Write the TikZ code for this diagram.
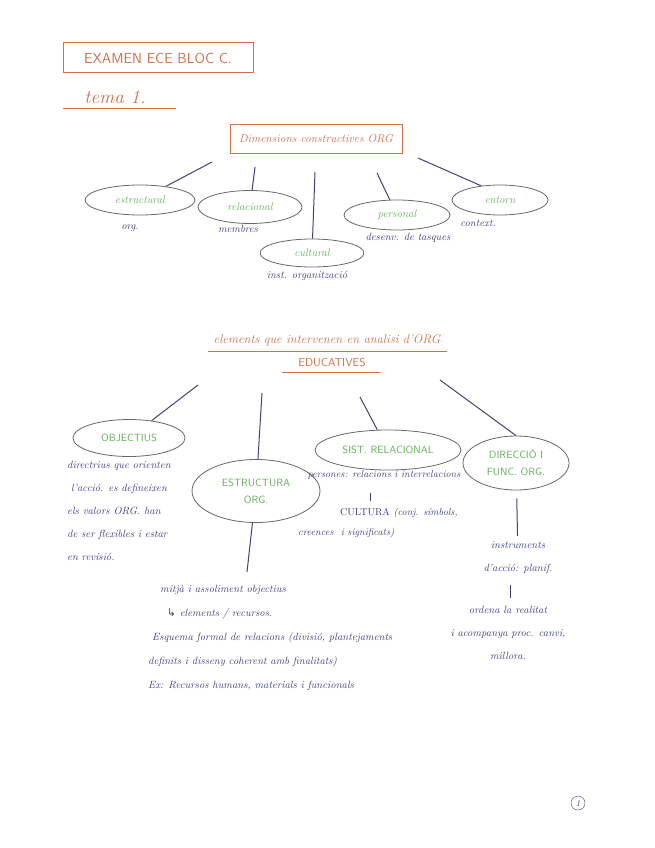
\documentclass[tikz,border=0pt]{standalone}
\usepackage{fontspec}
\usepackage{tikz}
\usetikzlibrary{shapes.geometric}
\newfontfamily\symfont{DejaVu Sans}
\definecolor{inkorange}{RGB}{206,112,76}
\definecolor{inknavy}{RGB}{64,66,128}
\definecolor{inkgreen}{RGB}{98,176,86}
\definecolor{pencilgray}{RGB}{98,108,102}

\begin{document}
\begin{tikzpicture}[x=1pt, y=-1pt,
  note/.style={text=inknavy, inner sep=0pt, font=\fontsize{10.5}{12}\selectfont\itshape},
  bubble/.style={draw=pencilgray, line width=0.8pt, ellipse, inner sep=0pt, text=inkgreen, font=\fontsize{11}{13}\selectfont\itshape},
  capbubble/.style={bubble, align=center, font=\fontsize{10.5}{17}\selectfont\sffamily},
  link/.style={inknavy, line width=1pt},
  heading/.style={text=inkorange, inner sep=0pt, font=\fontsize{12.5}{15}\selectfont\itshape}]
  \useasboundingbox[fill=white] (0,0) rectangle (655,848);

  \node[draw=inkorange, line width=1pt, minimum width=190, minimum height=30, text=inkorange, font=\fontsize{14.5}{17}\selectfont\sffamily] (exam) at (158,58) {EXAMEN ECE BLOC C.};
  \node[heading, font=\fontsize{19}{21}\selectfont\itshape] (tema) at (115,97) {tema 1.};
  \draw[inkorange, line width=0.8pt] (63,108) -- (176,108);

  \node[draw=inkorange, line width=1pt, minimum width=172, minimum height=28, heading, font=\fontsize{11.5}{14}\selectfont\itshape] (dims) at (316,139) {Dimensions constructives ORG};

  \node[bubble, minimum width=110, minimum height=30] (estr) at (140,200) {estructural};
  \node[bubble, minimum width=104, minimum height=33] (rel) at (250,207) {relacional};
  \node[bubble, minimum width=104, minimum height=28] (cult) at (312,253) {cultural};
  \node[bubble, minimum width=106, minimum height=30] (pers) at (397,215) {personal};
  \node[bubble, minimum width=96, minimum height=30] (ent) at (500,200) {entorn};

  \coordinate (t1) at (212,162);
  \coordinate (t2) at (255,167);
  \coordinate (t3) at (315,172);
  \coordinate (t4) at (377,173);
  \coordinate (t5) at (418,158);
  \draw[link] (t1) -- (estr);
  \draw[link] (t2) -- (rel);
  \draw[link] (t3) -- (cult);
  \draw[link] (t4) -- (pers);
  \draw[link] (t5) -- (ent.143);

  \node[note] (n1) at (130,228) {org.};
  \node[note] (n2) at (238,229) {membres};
  \node[note] (n3) at (307,276) {inst. organització};
  \node[note] (n4) at (408,238) {desenv. de tasques};
  \node[note] (n5) at (478,223) {context.};

  \node[heading] (elem) at (327,340) {elements que intervenen en analisi d'ORG};
  \draw[inkorange, line width=0.8pt] (208,351) -- (447,351);
  \node[heading, font=\fontsize{11.5}{14}\selectfont\sffamily] (educ) at (332,363) {EDUCATIVES};
  \draw[inkorange, line width=0.8pt] (282,372) -- (380,372);

  \node[capbubble, minimum width=112, minimum height=37] (obj) at (129,438) {OBJECTIUS};
  \node[capbubble, minimum width=128, minimum height=63] (eorg) at (256,491) {ESTRUCTURA\\ORG.};
  \node[capbubble, minimum width=146, minimum height=40] (sist) at (388,450) {SIST. RELACIONAL};
  \node[capbubble, minimum width=106, minimum height=54] (dir) at (516,463) {DIRECCIÓ I\\FUNC. ORG.};

  \coordinate (s1) at (198,385);
  \coordinate (s2) at (262,393);
  \coordinate (s3) at (360,397);
  \coordinate (s4) at (440,380);
  \draw[link] (s1) -- (obj);
  \draw[link] (s2) -- (eorg);
  \draw[link] (s3) -- (sist);
  \draw[link] (s4) -- (dir.north);

  \node[note, anchor=north west, align=left, font=\fontsize{10.5}{23}\selectfont\itshape] (objnote) at (67,461) {directrius que orienten\\\hspace*{4pt}l'acció. es defineixen\\els valors ORG. han\\de ser flexibles i estar\\en revisió.};

  \coordinate (e1) at (247,572);
  \draw[link] (eorg) -- (e1);
  \node[note, anchor=north west, align=left, font=\fontsize{10.5}{24}\selectfont\itshape] (eorgnote) at (148,585) {\hspace*{12pt}mitjà i assoliment objectius\\\hspace*{19pt}{\symfont ↳} elements / recursos.\\\hspace*{4pt}Esquema formal de relacions (divisió, plantejaments\\definits i disseny coherent amb finalitats)\\Ex: Recursos humans, materials i funcionals};

  \node[note, font=\fontsize{10}{12}\selectfont\itshape] (pers2) at (384,475) {persones: relacions i interrelacions};
  \coordinate (b1) at (370,493);
  \coordinate (b2) at (370,501);
  \draw[link] (b1) -- (b2);
  \node[note, anchor=north west, align=left, font=\fontsize{10}{20}\selectfont\itshape] (cultnote) at (298,508) {\hspace*{42pt}{\upshape CULTURA} (conj. símbols,\\creences \ i significats)};

  \node[note, align=center, font=\fontsize{10.5}{23}\selectfont\itshape] (instr) at (518,558) {instruments\\d'acció: planif.};
  \draw[link, shorten <=8pt, shorten >=6pt] (dir) -- (instr);
  \coordinate (b3) at (510,585);
  \coordinate (b4) at (510,598);
  \draw[link] (b3) -- (b4);
  \node[note, align=center, font=\fontsize{10.5}{23}\selectfont\itshape] (ordena) at (508,633) {ordena la realitat\\i acompanya proc. canvi,\\millora.};

  \node[draw=inknavy, circle, minimum size=14, inner sep=0pt, text=inknavy, font=\fontsize{9}{11}\selectfont\itshape] (page) at (578,803) {1};
\end{tikzpicture}
\end{document}
